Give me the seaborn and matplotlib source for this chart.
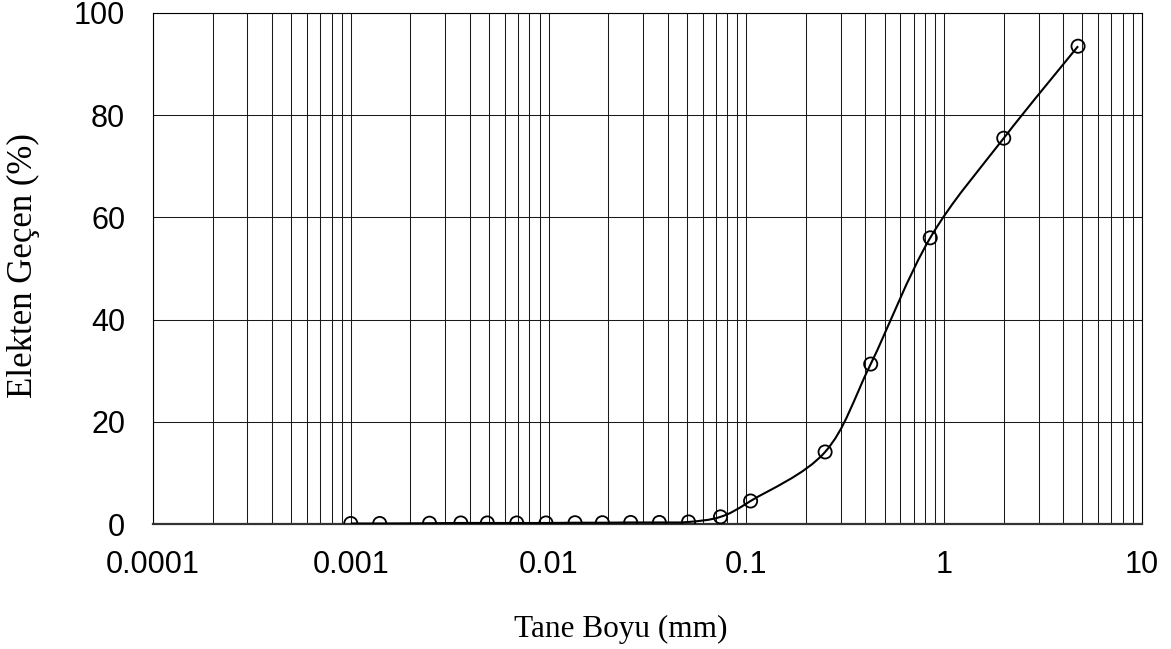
import numpy as np
import pandas as pd
import seaborn as sns
import matplotlib
matplotlib.use("Agg")
import matplotlib.pyplot as plt
from matplotlib.path import Path
from matplotlib.patches import PathPatch
from matplotlib.ticker import LogLocator, FixedLocator, NullFormatter

# --- data ---
grain_size_mm = [0.001, 0.0014, 0.0025, 0.0036, 0.0049, 0.0069, 0.0097, 0.0136,
                 0.0187, 0.026, 0.0363, 0.051, 0.074, 0.105, 0.25, 0.425, 0.85,
                 2.0, 4.75]
percent_passing = [0.1, 0.1, 0.15, 0.2, 0.2, 0.2, 0.2, 0.25, 0.25, 0.3, 0.3, 0.4,
                   1.4, 4.5, 14.1, 31.3, 56.0, 75.5, 93.5]
x_tick_values = [0.0001, 0.001, 0.01, 0.1, 1, 10]
x_tick_labels = ["0.0001", "0.001", "0.01", "0.1", "1", "10"]
y_tick_values = [0, 20, 40, 60, 80, 100]

df = pd.DataFrame({"size": grain_size_mm, "passing": percent_passing})

sns.set_style("white")
plt.rcParams["font.family"] = ["Liberation Sans", "DejaVu Sans"]
plt.rcParams["text.color"] = "black"
plt.rcParams["axes.labelcolor"] = "black"

fig = plt.figure(figsize=(11.71, 6.49), dpi=100)
ax = fig.add_axes([153 / 1171, 1 - 524 / 649, (1142 - 153) / 1171, (524 - 13) / 649])

ax.set_xscale("log")
ax.set_xlim(1e-4, 10)
ax.set_ylim(0, 100)

# grid
ax.xaxis.set_major_locator(FixedLocator(x_tick_values))
ax.xaxis.set_minor_locator(LogLocator(base=10, subs=np.arange(2, 10)))
ax.xaxis.set_minor_formatter(NullFormatter())
ax.set_xticks(x_tick_values)
ax.set_xticklabels(x_tick_labels)
ax.set_yticks(y_tick_values)
ax.grid(True, which="major", axis="both", color="#1a1a1a", linewidth=0.75, zorder=0)
ax.grid(True, which="minor", axis="x", color="#1a1a1a", linewidth=0.75, zorder=0)
ax.set_axisbelow(True)

# smoothed curve (cubic Bezier through the points in log-x space, like a spreadsheet smooth line)
u = np.log10(np.asarray(grain_size_mm, dtype=float))
v = np.asarray(percent_passing, dtype=float)
pts = np.column_stack([u, v])
n = len(pts)
verts = [pts[0]]
codes = [Path.MOVETO]
for i in range(n - 1):
    p0, p3 = pts[i], pts[i + 1]
    prev = pts[i - 1] if i > 0 else pts[i]
    nxt = pts[i + 2] if i + 2 < n else pts[i + 1]
    c1 = p0 + (p3 - prev) / 6.0
    c2 = p3 - (nxt - p0) / 6.0
    verts += [c1, c2, p3]
    codes += [Path.CURVE4] * 3
verts = np.array(verts)
verts[:, 0] = 10 ** verts[:, 0]
curve = PathPatch(Path(verts, codes), facecolor="none", edgecolor="black",
                  linewidth=1.5, transform=ax.transData, zorder=3)
ax.add_patch(curve)

sns.scatterplot(data=df, x="size", y="passing", ax=ax, marker="o", s=90,
                facecolor="none", edgecolor="black", linewidth=1.3, zorder=4,
                legend=False)

# spines and ticks
for side in ["left", "right", "top"]:
    ax.spines[side].set_color("black")
    ax.spines[side].set_linewidth(0.8)
ax.spines["bottom"].set_color("#333333")
ax.spines["bottom"].set_linewidth(1.6)

ax.tick_params(axis="both", which="major", direction="out", length=7,
               width=1.0, color="#555555", labelsize=22, labelcolor="black")
ax.tick_params(axis="x", which="major", pad=12, color="black")
ax.tick_params(axis="y", which="major", pad=13)
ax.tick_params(axis="x", which="minor", length=0)

serif = ["Liberation Serif", "DejaVu Serif"]
ax.set_xlabel("Tane Boyu (mm)", fontsize=22.5, family=serif, color="black",
              labelpad=25, x=0.473)
ax.set_ylabel("Elekten Geçen (%)", fontsize=25, family=serif, color="black")
ax.yaxis.set_label_coords(-0.114, 0.505)

fig.savefig("out.png", dpi=100)
